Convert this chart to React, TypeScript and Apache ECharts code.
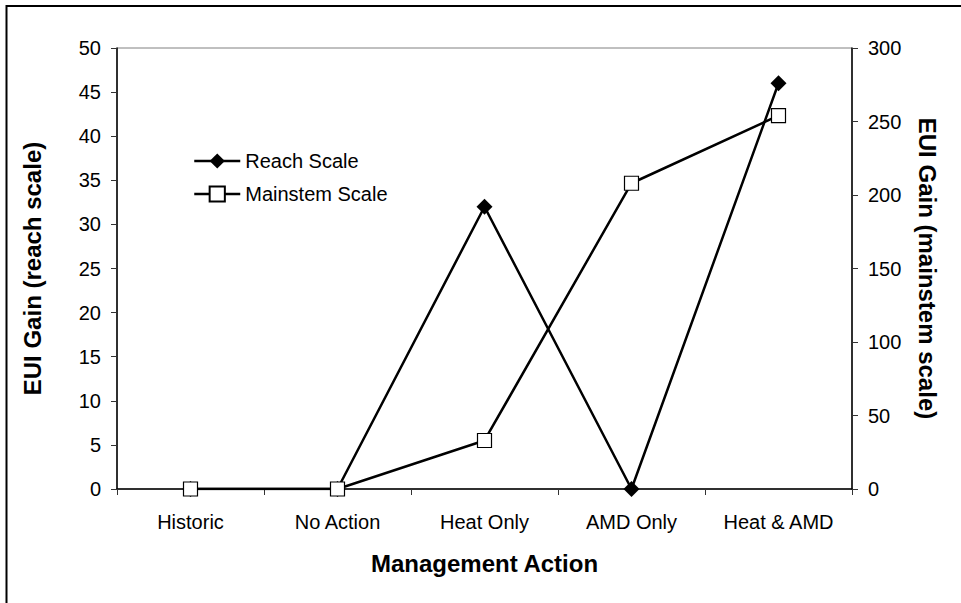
import React, { useEffect, useRef } from "react";
import * as echarts from "echarts";

const categories = ["Historic", "No Action", "Heat Only", "AMD Only", "Heat & AMD"];
const reachScale = [0, 0, 32, 0, 46];
const mainstemScale = [0, 0, 33, 208, 254];
const seriesNames = ["Reach Scale", "Mainstem Scale"];

const FONT = "Arial, 'Liberation Sans', sans-serif";

export default function App() {
  const ref = useRef<HTMLDivElement>(null);
  useEffect(() => {
    document.body.style.margin = "0";
    const chart = echarts.init(ref.current!, null, { renderer: "svg" });
    chart.setOption({
      animation: false,
      backgroundColor: "#fff",
      textStyle: { fontFamily: FONT, color: "#000" },
      grid: {
        left: 117,
        right: 109,
        top: 48,
        bottom: 114,
        show: true,
        borderColor: "#808080",
        borderWidth: 1,
        backgroundColor: "transparent",
      },
      graphic: [
        {
          type: "rect",
          shape: { x: 6.5, y: 6, width: 960, height: 610 },
          style: { fill: "none", stroke: "#000", lineWidth: 2 },
          silent: true,
        },
      ],
      legend: {
        orient: "vertical",
        left: 188,
        top: 146,
        itemWidth: 46,
        itemHeight: 19,
        itemGap: 13,
        data: seriesNames,
        lineStyle: { width: 2.5, color: "#000" },
        textStyle: { fontFamily: FONT, fontSize: 20, color: "#000", lineHeight: 20 },
      },
      xAxis: {
        type: "category",
        data: categories,
        boundaryGap: true,
        name: "Management Action",
        nameLocation: "middle",
        nameGap: 62,
        nameTextStyle: { fontFamily: FONT, fontSize: 24, fontWeight: "bold", color: "#000" },
        axisLine: { lineStyle: { color: "#000", width: 1.5 } },
        axisTick: { show: true, length: 6, lineStyle: { color: "#333" } },
        axisLabel: { fontFamily: FONT, fontSize: 20, color: "#000", margin: 23 },
        splitLine: { show: false },
      },
      yAxis: [
        {
          type: "value",
          min: 0,
          max: 50,
          interval: 5,
          position: "left",
          name: "EUI Gain (reach scale)",
          nameLocation: "middle",
          nameRotate: 90,
          nameGap: 73,
          nameTextStyle: { fontFamily: FONT, fontSize: 24, fontWeight: "bold", color: "#000" },
          axisLine: { show: true, lineStyle: { color: "#000", width: 1.5 } },
          axisTick: { show: true, length: 6, lineStyle: { color: "#333" } },
          axisLabel: { fontFamily: FONT, fontSize: 20, color: "#000", margin: 16 },
          splitLine: { show: false },
        },
        {
          type: "value",
          min: 0,
          max: 300,
          interval: 50,
          position: "right",
          name: "EUI Gain (mainstem scale)",
          nameLocation: "middle",
          nameRotate: -90,
          nameGap: 63,
          nameTextStyle: { fontFamily: FONT, fontSize: 24, fontWeight: "bold", color: "#000" },
          axisLine: { show: true, lineStyle: { color: "#000", width: 1.5 } },
          axisTick: { show: true, length: 6, lineStyle: { color: "#333" } },
          axisLabel: { fontFamily: FONT, fontSize: 20, color: "#000", margin: 16 },
          splitLine: { show: false },
        },
      ],
      series: [
        {
          name: seriesNames[0],
          type: "line",
          yAxisIndex: 0,
          data: reachScale,
          symbol: "diamond",
          symbolSize: 16,
          showAllSymbol: true,
          lineStyle: { color: "#000", width: 2.5 },
          itemStyle: { color: "#000", borderColor: "#000", borderWidth: 0 },
          z: 2,
        },
        {
          name: seriesNames[1],
          type: "line",
          yAxisIndex: 1,
          data: mainstemScale,
          symbol: "rect",
          symbolSize: 14,
          showAllSymbol: true,
          lineStyle: { color: "#000", width: 2.5 },
          itemStyle: { color: "#fff", borderColor: "#000", borderWidth: 1.2 },
          z: 3,
        },
      ],
    });
    return () => chart.dispose();
  }, []);
  return <div ref={ref} style={{ width: 961, height: 603 }} />;
}
